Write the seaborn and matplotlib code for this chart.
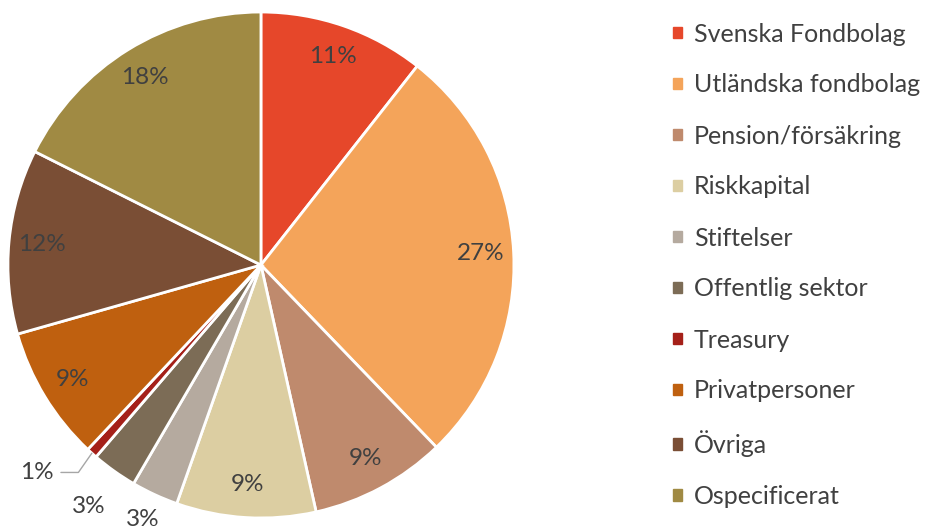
import numpy as np
import seaborn as sns
import matplotlib.pyplot as plt

categories = ["Svenska Fondbolag", "Utländska fondbolag", "Pension/försäkring", "Riskkapital",
              "Stiftelser", "Offentlig sektor", "Treasury", "Privatpersoner", "Övriga", "Ospecificerat"]
shares = [10.6, 27.2, 8.7, 8.9, 3.0, 2.9, 0.7, 8.6, 11.8, 17.6]
colors = ["#E6472A", "#F4A45A", "#BF8A6D", "#DCCEA2", "#B5AA9F",
          "#7C6C56", "#A52019", "#BF600F", "#7A4E35", "#A08A43"]
outside = ["Stiftelser", "Offentlig sektor", "Treasury"]

sns.set_style("white")
plt.rcParams['font.family'] = ['Lato', 'DejaVu Sans']
palette = sns.color_palette(colors)
txt = "#404040"

fig = plt.figure(figsize=(9.25, 5.29), dpi=100)
ax = fig.add_axes([0.0086, 0.0208, 0.547, 0.9565])

wedges, texts, autotexts = ax.pie(shares, colors=palette, startangle=90, counterclock=False,
                                  autopct=lambda p: f"{p:.0f}%", pctdistance=0.87,
                                  wedgeprops=dict(edgecolor="white", linewidth=2),
                                  textprops=dict(color=txt, fontsize=17.5))
ax.set_xlim(-1, 1)
ax.set_ylim(-1, 1)
ax.set_aspect("equal")

# small slices get their labels outside the pie
dist = {"Stiftelser": 1.11, "Offentlig sektor": 1.17}
for w, t, name in zip(wedges, autotexts, categories):
    if name not in outside:
        continue
    ang = np.deg2rad((w.theta1 + w.theta2) / 2)
    if name == "Treasury":
        t.set_visible(False)
        ax.annotate(t.get_text(), xy=(np.cos(ang), np.sin(ang)),
                    xytext=(-0.82, -0.82), color=txt, fontsize=17.5, ha="right", va="center",
                    arrowprops=dict(arrowstyle="-", color="#A6A6A6", lw=1,
                                    connectionstyle="angle,angleA=0,angleB=55,rad=0",
                                    shrinkA=3, shrinkB=0))
    else:
        t.set_position((np.cos(ang) * dist[name], np.sin(ang) * dist[name]))

handles = [plt.Rectangle((0, 0), 1, 1, color=c) for c in palette]
fig.legend(handles, categories, loc="upper left", bbox_to_anchor=(0.703, 1.0),
           frameon=False, fontsize=18, labelcolor=txt, handlelength=0.35, handleheight=0.35,
           handletextpad=0.5, labelspacing=1.12)

fig.savefig("out.png", dpi=100)
